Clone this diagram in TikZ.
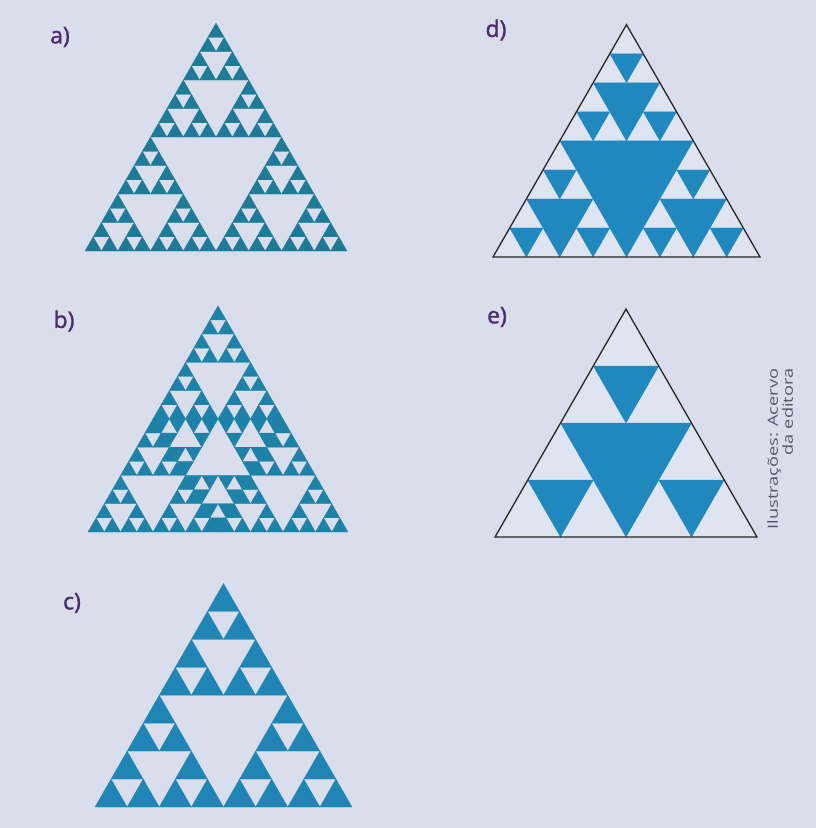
\documentclass[tikz,border=0pt]{standalone}
\usepackage{fontspec}
\setmainfont{Open Sans}
\newfontfamily\labfont[FakeBold=1.3]{Open Sans}
\newfontfamily\credfont[FakeStretch=1.3]{Open Sans}
\definecolor{bgcol}{HTML}{DADEEC}
\definecolor{colA}{HTML}{1C7B97}
\definecolor{colB}{HTML}{1D82A8}
\definecolor{colC}{HTML}{1F85B4}
\definecolor{colD}{HTML}{1F88BF}
\definecolor{inside}{HTML}{DEE5F1}
\definecolor{labcol}{HTML}{4A2D6E}
\definecolor{credcol}{HTML}{535870}
\def\HR{0.87}
% upright Sierpinski: level, base-left x, base y, side
\newcommand\SierUp[4]{%
  \ifnum#1=0\relax
    \fill[sfill] (#2,#3) -- ++({#4},0) -- ++({-(#4)/2},{-(#4)*\HR}) -- cycle;
  \else
    \begingroup
      \edef\px{#2}\edef\py{#3}\edef\ps{#4}%
      \pgfmathtruncatemacro\lv{#1-1}%
      \pgfmathsetmacro\hs{\ps/2}%
      \pgfmathsetmacro\xa{\px+\hs}%
      \pgfmathsetmacro\xb{\px+\hs/2}%
      \pgfmathsetmacro\yb{\py-\hs*\HR}%
      \SierUp{\lv}{\px}{\py}{\hs}%
      \SierUp{\lv}{\xa}{\py}{\hs}%
      \SierUp{\lv}{\xb}{\yb}{\hs}%
    \endgroup
  \fi}
% inverted Sierpinski: level, top-left x, top y, side
\newcommand\SierDn[4]{%
  \ifnum#1=0\relax
    \fill[sfill] (#2,#3) -- ++({#4},0) -- ++({-(#4)/2},{(#4)*\HR}) -- cycle;
  \else
    \begingroup
      \edef\px{#2}\edef\py{#3}\edef\ps{#4}%
      \pgfmathtruncatemacro\lv{#1-1}%
      \pgfmathsetmacro\hs{\ps/2}%
      \pgfmathsetmacro\xa{\px+\hs}%
      \pgfmathsetmacro\xb{\px+\hs/2}%
      \pgfmathsetmacro\yb{\py+\hs*\HR}%
      \SierDn{\lv}{\px}{\py}{\hs}%
      \SierDn{\lv}{\xa}{\py}{\hs}%
      \SierDn{\lv}{\xb}{\yb}{\hs}%
    \endgroup
  \fi}
% filled holes: level, base-left x, base y, side
\newcommand\Holes[4]{%
  \begingroup
    \edef\plv{#1}\edef\px{#2}\edef\py{#3}\edef\ps{#4}%
    \pgfmathtruncatemacro\lv{\plv-1}%
    \pgfmathsetmacro\hs{\ps/2}%
    \pgfmathsetmacro\xa{\px+\hs}%
    \pgfmathsetmacro\xb{\px+\hs/2}%
    \pgfmathsetmacro\yb{\py-\hs*\HR}%
    \fill[hfill] (\xb,\yb) -- ++(\hs,0) -- (\xa,\py) -- cycle;
    \ifnum\plv>1\relax
      \Holes{\lv}{\px}{\py}{\hs}%
      \Holes{\lv}{\xa}{\py}{\hs}%
      \Holes{\lv}{\xb}{\yb}{\hs}%
    \fi
  \endgroup}
\begin{document}
\begin{tikzpicture}[x=1pt,y=-1pt,
  lab/.style={text=labcol,font=\labfont\fontsize{23}{27}\selectfont,inner sep=0pt},
  credit/.style={text=credcol,font=\credfont\fontsize{14}{15}\selectfont,inner sep=0pt,align=right,rotate=90},
  outline/.style={draw=black!85,line width=1.3pt,line join=miter}]
\useasboundingbox (0,0) rectangle (816,828);
\fill[bgcol] (0,0) rectangle (816,828);

% a) level 4
\begin{scope}[sfill/.style={fill=colA,draw=colA,line width=0.25pt}]
  \SierUp{4}{85}{251}{262}
\end{scope}

% b) three corner level-3 gaskets + inverted level-3 in the middle
\begin{scope}[sfill/.style={fill=colB,draw=colB,line width=0.25pt}]
  \SierUp{3}{88}{532}{130}
  \SierUp{3}{218}{532}{130}
  \SierUp{3}{153}{418.9}{130}
  \SierDn{3}{153}{418.9}{130}
\end{scope}

% c) level 3
\begin{scope}[sfill/.style={fill=colC,draw=colC,line width=0.25pt}]
  \SierUp{3}{95}{807}{257}
\end{scope}

% d) outline with filled holes, 3 levels
\fill[inside] (493,257) -- (760,257) -- (626.5,24.7) -- cycle;
\begin{scope}[hfill/.style={fill=colD,draw=colD,line width=0.25pt}]
  \Holes{3}{493}{257}{267}
\end{scope}
\draw[outline] (493,257) -- (760,257) -- (626.5,24.7) -- cycle;

% e) outline with filled holes, 2 levels
\fill[inside] (495,537) -- (757,537) -- (626,309.1) -- cycle;
\begin{scope}[hfill/.style={fill=colD,draw=colD,line width=0.25pt}]
  \Holes{2}{495}{537}{262}
\end{scope}
\draw[outline] (495,537) -- (757,537) -- (626,309.1) -- cycle;

% labels
\node[lab] (la) at (60,37) {a)};
\node[lab] (lb) at (64,321) {b)};
\node[lab] (lc) at (72,603) {c)};
\node[lab] (ld) at (496,30) {d)};
\node[lab] (le) at (497,317) {e)};
\node[credit] (cr) at (780,449) {Ilustrações: Acervo\\da editora};
\end{tikzpicture}
\end{document}
